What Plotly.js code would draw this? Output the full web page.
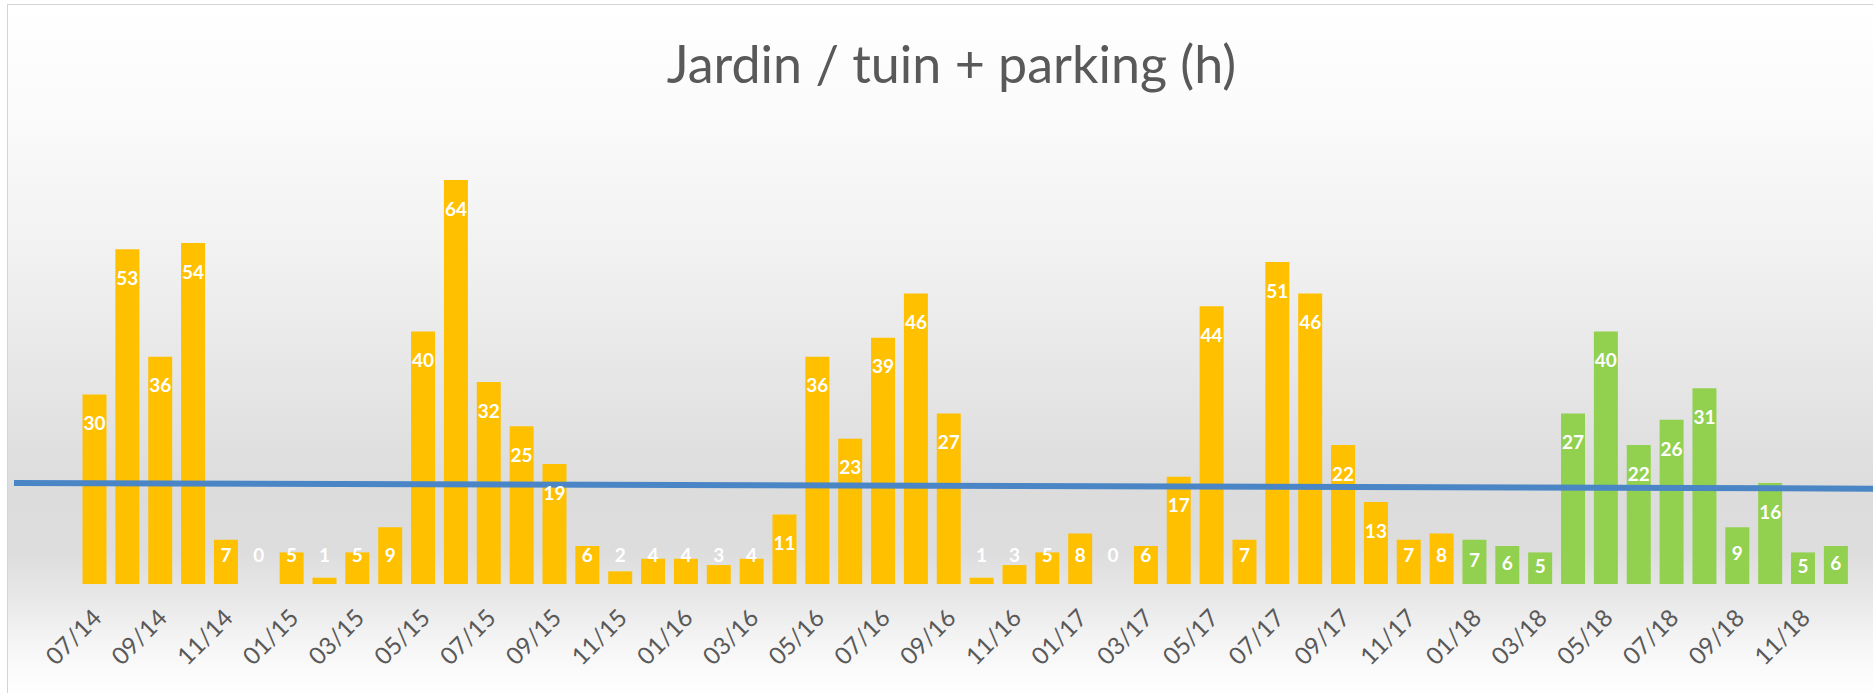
<!DOCTYPE html>
<html>
<head>
<meta charset="utf-8">
<script src="https://cdn.plot.ly/plotly-3.0.1.min.js"></script>
<style>
  html, body { margin: 0; padding: 0; width: 1873px; height: 693px; overflow: hidden; background: #ffffff; }
  #frame {
    position: absolute; left: 7px; top: 4px; width: 1900px; height: 720px;
    border: 1px solid #d4d4d4;
    background: linear-gradient(to bottom, #ffffff 0%, #fbfbfb 14%, #f1f1f1 35%, #e4e4e4 55%, #dcdcdc 68%, #dddddd 76%, #e9e9e9 83%, #f6f6f6 89%, #fefefe 95%, #ffffff 100%);
  }
  #chart { position: absolute; left: 0; top: 0; width: 1873px; height: 693px; }
</style>
</head>
<body>
<div id="frame"></div>
<div id="chart"></div>
<script>
// ---- data ----
const months = [
  '07/14','08/14','09/14','10/14','11/14','12/14',
  '01/15','02/15','03/15','04/15','05/15','06/15','07/15','08/15','09/15','10/15','11/15','12/15',
  '01/16','02/16','03/16','04/16','05/16','06/16','07/16','08/16','09/16','10/16','11/16','12/16',
  '01/17','02/17','03/17','04/17','05/17','06/17','07/17','08/17','09/17','10/17','11/17','12/17',
  '01/18','02/18','03/18','04/18','05/18','06/18','07/18','08/18','09/18','10/18','11/18','12/18'
];
const hours = [
  30, 53, 36, 54, 7, 0,
  5, 1, 5, 9, 40, 64, 32, 25, 19, 6, 2, 4,
  4, 3, 4, 11, 36, 23, 39, 46, 27, 1, 3, 5,
  8, 0, 6, 17, 44, 7, 51, 46, 22, 13, 7, 8,
  7, 6, 5, 27, 40, 22, 26, 31, 9, 16, 5, 6
];
const greenFrom = '01/18';           // months from here on are drawn in green
const trendX = [-2.45, 54.13];       // horizontal reference line (extends past the bars)
const trendY = [16.0, 15.1];
const titleText = 'Jardin / tuin + parking (h)';

// ---- build traces ----
const idx = months.map((m, i) => i);
const gi = months.indexOf(greenFrom);
const ORANGE = '#FFC000', GREEN = '#92D050';
const barColors = idx.map(i => i >= gi ? GREEN : ORANGE);
const labelY = idx.map(i => {
  const v = hours[i];
  return i >= gi ? Math.max(v - 4.9, v / 2) : Math.max(v - 4.9, 4.3);
});
const tickvals = idx.filter(i => i % 2 === 0);
const ticktext = tickvals.map(i => months[i]);

const FONT = 'Lato, "Open Sans", sans-serif';
const traces = [
  {
    type: 'bar', x: idx, y: hours,
    marker: { color: barColors, line: { width: 0 } },
    hoverinfo: 'skip', showlegend: false
  },
  {
    type: 'scatter', mode: 'lines', x: trendX, y: trendY,
    line: { color: '#4A86C6', width: 6 },
    hoverinfo: 'skip', showlegend: false
  },
  {
    type: 'scatter', mode: 'text', x: idx, y: labelY,
    text: hours.map(String), textposition: 'middle center',
    textfont: { family: FONT, size: 19, color: '#ffffff', weight: 'bold' },
    hoverinfo: 'skip', showlegend: false, cliponaxis: false
  }
];

const layout = {
  width: 1873, height: 693,
  paper_bgcolor: 'rgba(0,0,0,0)', plot_bgcolor: 'rgba(0,0,0,0)',
  margin: { l: 14, r: 0, t: 142, b: 109 },
  bargap: 0.27,
  title: {
    text: titleText, x: 0.508, xanchor: 'center', y: 0.907, yanchor: 'middle',
    font: { family: FONT, size: 52, color: '#595959' }
  },
  xaxis: {
    range: [-2.45, 54.13], showgrid: false, zeroline: false, showline: false,
    tickmode: 'array', tickvals: tickvals, ticktext: ticktext, tickangle: -45,
    ticks: '', ticklabelstandoff: 14,
    tickfont: { family: FONT, size: 24, color: '#595959' },
    fixedrange: true, automargin: false
  },
  yaxis: {
    range: [0, 70], visible: false, showgrid: false, zeroline: false, fixedrange: true
  },
  showlegend: false
};

Plotly.newPlot('chart', traces, layout, { displayModeBar: false, staticPlot: true });
</script>
</body>
</html>
